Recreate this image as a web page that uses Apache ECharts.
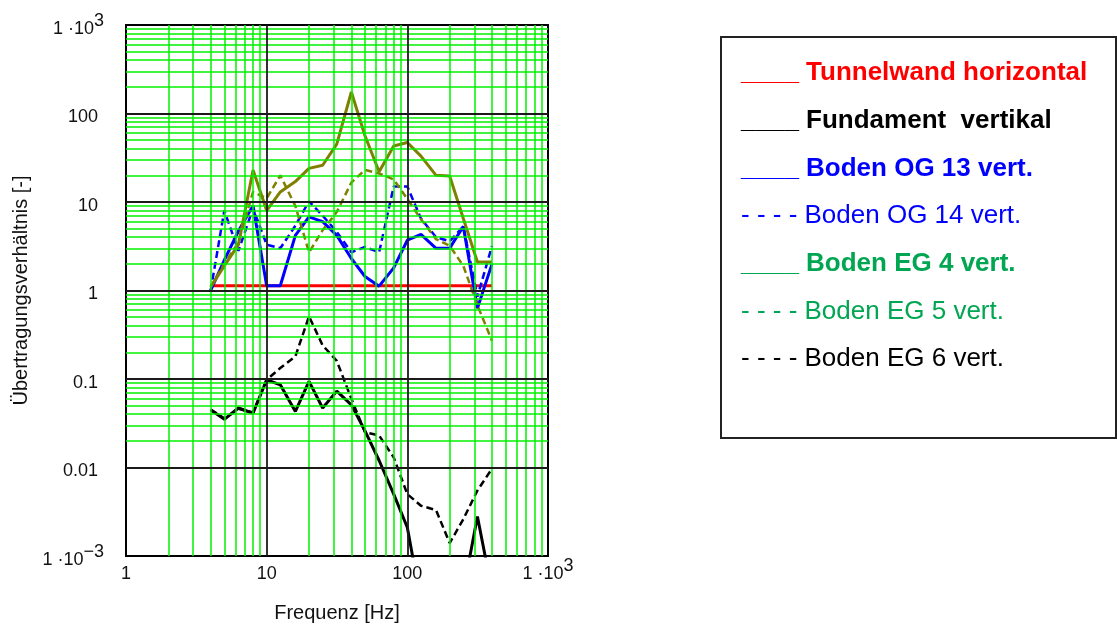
<!DOCTYPE html>
<html>
<head>
<meta charset="utf-8">
<script src="https://cdn.jsdelivr.net/npm/echarts@6/dist/echarts.min.js"></script>
<style>html,body{margin:0;padding:0;background:#fff;}#c{width:1117px;height:628px;}</style>
</head>
<body>
<div id="c"></div>
<script>
// ---- data ----
const freq = [4, 5, 6.3, 8, 10, 12.5, 16, 20, 25, 31.5, 40, 50, 63, 80, 100, 125, 160, 200, 250, 315, 400];
const tunnelwand = [1.13, 1.13, 1.13, 1.13, 1.13, 1.13, 1.13, 1.13, 1.13, 1.13, 1.13, 1.13, 1.13, 1.13, 1.13, 1.13, 1.13, 1.13, 1.13, 1.13, 1.13];
const fundament = [0.045, 0.035, 0.047, 0.041, 0.098, 0.086, 0.043, 0.094, 0.047, 0.073, 0.051, 0.026, 0.012, 0.005, 0.0021, 0.0003, 0.0002, 0.0002, 0.0004, 0.0028, 0.0004];
const bodenOG13 = [1.0, 2.2, 4.7, 9.1, 1.13, 1.13, 4.2, 6.8, 6.0, 4.2, 2.3, 1.44, 1.12, 1.8, 3.7, 4.3, 3.0, 3.0, 5.3, 0.63, 2.0];
const bodenOG14 = [1.0, 8.0, 2.8, 8.5, 3.3, 3.0, 5.4, 10.2, 7.0, 4.6, 2.7, 3.1, 2.7, 15, 15, 6.5, 4.0, 3.6, 5.3, 0.85, 3.2];
const bodenEG4 = [1.1, 1.9, 3.3, 23, 8.0, 13, 17, 24, 26, 45, 175, 56, 22, 43, 47, 33, 20, 19.7, 6.5, 2.1, 2.1];
const bodenEG5 = [1.1, 2.0, 3.5, 13, 11, 20, 9, 2.7, 4.8, 7.7, 16.6, 23, 21, 18, 10.8, 6.4, 3.8, 3.2, 1.9, 0.68, 0.27];
const bodenEG6 = [0.045, 0.036, 0.046, 0.042, 0.098, 0.133, 0.18, 0.51, 0.24, 0.16, 0.06, 0.025, 0.023, 0.013, 0.005, 0.0037, 0.0033, 0.0014, 0.0026, 0.0055, 0.0097];

const xTickValues = [1, 10, 100, 1000];
const xTickBase = ['1', '10', '100', '1 ·10'];
const xTickSup = ['', '', '', '3'];
const yTickValues = [0.001, 0.01, 0.1, 1, 10, 100, 1000];
const yTickBase = ['1 ·10', '0.01', '0.1', '1', '10', '100', '1 ·10'];
const yTickSup = ['\u22123', '', '', '', '', '', '3'];

const legendNames = ['Tunnelwand horizontal', 'Fundament  vertikal', 'Boden OG 13 vert.', 'Boden OG 14 vert.', 'Boden EG 4 vert.', 'Boden EG 5 vert.', 'Boden EG 6 vert.'];
const legendPrefix = ['____', '____', '____', '- - - -', '____', '- - - -', '- - - -'];
const legendColors = ['#ff0000', '#000000', '#0000ff', '#0000ff', '#00a651', '#00a651', '#000000'];
const legendBold = [true, true, true, false, true, false, false];

// ---- chart ----
const FONT = 'Liberation Sans, Arial, sans-serif';
const chart = echarts.init(document.getElementById('c'));

function pairs(ys) { return freq.map((f, i) => [f, ys[i]]); }

function tickFmt(vals, base, sup) {
  return function (v) {
    const i = vals.findIndex(t => Math.abs(Math.log10(t) - Math.log10(v)) < 1e-6);
    if (i < 0) return '';
    return sup[i] ? '{b|' + base[i] + '}{s|' + sup[i] + '}' : '{p|' + base[i] + '}';
  };
}

// grid lines (minor green, major black)
const minorX = [], minorY = [], majorX = [], majorY = [];
for (let k = 0; k <= 2; k++) for (let m = 2; m <= 9; m++) minorX.push(m * Math.pow(10, k));
for (let k = -3; k <= 2; k++) for (let m = 2; m <= 9; m++) minorY.push(m * Math.pow(10, k));
for (let k = 1; k <= 2; k++) majorX.push(Math.pow(10, k));
for (let k = -2; k <= 2; k++) majorY.push(Math.pow(10, k));
const greenStyle = { color: '#00f000', width: 1.5, type: 'solid' };
const blackStyle = { color: '#1a1a1a', width: 1.8, type: 'solid' };
const gridMarks = []
  .concat(minorX.map(v => ({ xAxis: v, lineStyle: greenStyle })))
  .concat(minorY.map(v => ({ yAxis: v, lineStyle: greenStyle })))
  .concat(majorX.map(v => ({ xAxis: v, lineStyle: blackStyle })))
  .concat(majorY.map(v => ({ yAxis: v, lineStyle: blackStyle })));

function lineSeries(name, ys, color, dashed, width, z) {
  return {
    name: name, type: 'line', data: pairs(ys), symbol: 'none', z: z,
    lineStyle: { color: color, width: width, type: dashed ? [7, 4] : 'solid' },
    clip: true, silent: true
  };
}

const baseTxt = { fontSize: 18, lineHeight: 26, color: '#111', fontFamily: FONT };
const richX = {
  p: Object.assign({}, baseTxt, { verticalAlign: 'bottom' }),
  b: Object.assign({}, baseTxt, { verticalAlign: 'bottom' }),
  s: Object.assign({}, baseTxt, { verticalAlign: 'top' })
};
const richY = {
  p: Object.assign({}, baseTxt, { verticalAlign: 'bottom', padding: [0, 6, 0, 0] }),
  b: Object.assign({}, baseTxt, { verticalAlign: 'bottom' }),
  s: Object.assign({}, baseTxt, { verticalAlign: 'top' })
};

const legendGraphics = [{
  type: 'rect', shape: { x: 721, y: 37, width: 395, height: 401 },
  style: { fill: '#fff', stroke: '#222', lineWidth: 2 }, z: 10
}];
legendNames.forEach((n, i) => {
  legendGraphics.push({
    type: 'text', x: 741, y: 73 + i * 47.7, z: 11,
    style: {
      text: legendPrefix[i] + ' ' + n,
      fill: legendColors[i],
      font: (legendBold[i] ? 'bold ' : '') + '26px ' + FONT,
      textAlign: 'left', verticalAlign: 'middle'
    }
  });
});

const option = {
  animation: false,
  backgroundColor: '#fff',
  grid: { left: 126, right: 569, top: 25, bottom: 69, show: true, borderColor: '#000', borderWidth: 2, backgroundColor: '#fff' },
  xAxis: {
    type: 'log', logBase: 10, min: 1, max: 1000,
    name: 'Frequenz [Hz]', nameLocation: 'middle', nameGap: 47,
    nameTextStyle: { fontSize: 20, color: '#111', fontFamily: FONT },
    axisLine: { show: true, onZero: false, lineStyle: { color: '#000', width: 2 } },
    axisTick: { show: false },
    splitLine: { show: false },
    axisLabel: { margin: 1, formatter: tickFmt(xTickValues, xTickBase, xTickSup), rich: richX }
  },
  yAxis: {
    type: 'log', logBase: 10, min: 0.001, max: 1000,
    name: 'Übertragungsverhältnis [-]', nameLocation: 'middle', nameGap: 95, nameRotate: 90,
    nameTextStyle: { fontSize: 20, color: '#111', fontFamily: FONT },
    axisLine: { show: true, onZero: false, lineStyle: { color: '#000', width: 2 } },
    axisTick: { show: false },
    splitLine: { show: false },
    axisLabel: { margin: 22, formatter: tickFmt(yTickValues, yTickBase, yTickSup), rich: richY }
  },
  series: [
    {
      name: 'grid', type: 'line', data: [], z: 1, silent: true, symbol: 'none',
      markLine: { silent: true, symbol: 'none', label: { show: false }, animation: false, data: gridMarks }
    },
    lineSeries('Tunnelwand horizontal', tunnelwand, '#ff0000', false, 3, 3),
    lineSeries('Fundament vertikal', fundament, '#000000', false, 3, 3),
    lineSeries('Boden EG 6 vert.', bodenEG6, '#000000', true, 2.5, 3),
    lineSeries('Boden OG 14 vert.', bodenOG14, '#0000ff', true, 2.5, 3),
    lineSeries('Boden OG 13 vert.', bodenOG13, '#0000ff', false, 3, 3),
    lineSeries('Boden EG 5 vert.', bodenEG5, '#808000', true, 2.5, 3),
    lineSeries('Boden EG 4 vert.', bodenEG4, '#808000', false, 3, 3)
  ],
  graphic: legendGraphics
};
chart.setOption(option);
</script>
</body>
</html>
